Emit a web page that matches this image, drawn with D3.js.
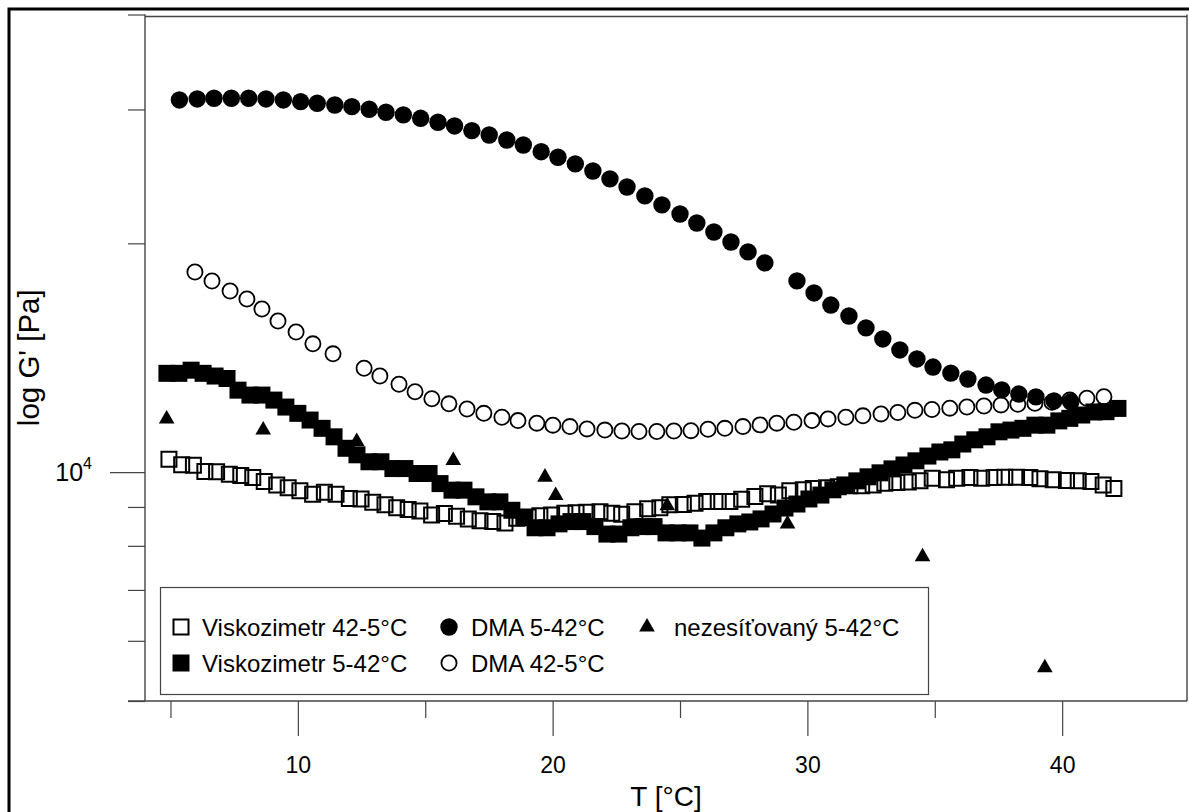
<!DOCTYPE html>
<html>
<head>
<meta charset="utf-8">
<script src="https://cdn.jsdelivr.net/npm/d3@7"></script>
<style>
  html, body { margin: 0; padding: 0; background: #fff; }
  svg { display: block; font-family: "Liberation Sans", Arial, sans-serif; }
</style>
</head>
<body>
<svg id="chart" width="1189" height="812"></svg>
<script>
// Viskozimetr 42-5°C (open squares)
const viscoDownT = [4.94, 5.44, 5.90, 6.35, 6.81, 7.31, 7.76, 8.23, 8.68, 9.17,
  9.62, 10.08, 10.58, 11.04, 11.50, 12.02, 12.48, 12.94, 13.42, 13.88,
  14.33, 14.79, 15.25, 15.75, 16.23, 16.69, 17.15, 17.65, 18.13, 18.59,
  19.04, 19.50, 19.96, 20.48, 20.92, 21.34, 21.86, 22.32, 22.71, 23.23,
  23.73, 24.21, 24.60, 25.13, 25.59, 26.05, 26.50, 26.96, 27.42, 27.94,
  28.44, 28.86, 29.31, 29.84, 30.23, 30.75, 31.21, 31.67, 32.13, 32.58,
  33.04, 33.51, 33.96, 34.42, 34.90, 35.46, 35.86, 36.38, 36.84, 37.33,
  37.75, 38.21, 38.73, 39.13, 39.65, 40.17, 40.63, 41.13, 41.61, 42.03];
const viscoDownG = [10400, 10230, 10210, 10020, 10010, 9940, 9900, 9840, 9720, 9620,
  9540, 9450, 9350, 9410, 9350, 9230, 9220, 9130, 9060, 8980,
  8930, 8890, 8780, 8820, 8750, 8680, 8630, 8610, 8570, 8700,
  8730, 8760, 8780, 8830, 8840, 8860, 8870, 8830, 8800, 8870,
  8950, 8980, 9060, 9070, 9100, 9150, 9150, 9150, 9210, 9290,
  9370, 9330, 9450, 9480, 9520, 9540, 9570, 9600, 9600, 9620,
  9670, 9690, 9710, 9740, 9820, 9770, 9820, 9840, 9820, 9840,
  9850, 9850, 9840, 9800, 9770, 9750, 9740, 9720, 9620, 9520];

// Viskozimetr 5-42°C (filled squares)
const viscoUpT = [4.86, 5.33, 5.81, 6.28, 6.75, 7.22, 7.65, 8.12, 8.59, 9.06,
  9.53, 10.00, 10.48, 10.95, 11.42, 11.89, 12.32, 12.79, 13.26, 13.73,
  14.20, 14.68, 15.15, 15.58, 16.05, 16.52, 16.99, 17.46, 17.93, 18.40,
  18.87, 19.31, 19.78, 20.25, 20.72, 21.19, 21.66, 22.13, 22.60, 23.07,
  23.54, 23.98, 24.45, 24.92, 25.39, 25.86, 26.33, 26.80, 27.27, 27.74,
  28.18, 28.65, 29.12, 29.59, 30.06, 30.53, 31.00, 31.47, 31.94, 32.38,
  32.85, 33.32, 33.79, 34.26, 34.73, 35.20, 35.67, 36.10, 36.57, 37.05,
  37.52, 37.99, 38.46, 38.93, 39.40, 39.87, 40.30, 40.77, 41.25, 41.72,
  42.19];
const viscoUpG = [13490, 13490, 13620, 13490, 13380, 13280, 12820, 12630, 12630, 12440,
  12180, 11950, 11710, 11420, 11130, 10750, 10540, 10320, 10320, 10110,
  10110, 9960, 9960, 9660, 9470, 9470, 9280, 9140, 9140, 8910,
  8710, 8450, 8450, 8550, 8610, 8610, 8480, 8290, 8290, 8450,
  8480, 8480, 8320, 8320, 8320, 8190, 8320, 8450, 8550, 8600,
  8680, 8810, 8970, 9080, 9220, 9330, 9480, 9620, 9740, 9860,
  9980, 10100, 10220, 10350, 10500, 10630, 10700, 10890, 11030, 11130,
  11300, 11360, 11420, 11530, 11530, 11680, 11770, 11890, 12000, 12010,
  12130];

// DMA 5-42°C (filled circles)
const dmaUpT = [5.35, 6.05, 6.71, 7.39, 8.07, 8.75, 9.43, 10.11, 10.76, 11.45,
  12.12, 12.80, 13.46, 14.14, 14.82, 15.50, 16.15, 16.83, 17.51, 18.20,
  18.85, 19.55, 20.21, 20.89, 21.58, 22.25, 22.92, 23.62, 24.29, 25.00,
  25.66, 26.33, 27.00, 27.67, 28.33, 29.59, 30.26, 30.92, 31.63, 32.30,
  32.96, 33.63, 34.30, 34.93, 35.63, 36.30, 37.01, 37.63, 38.30, 38.97,
  39.68, 40.34];
const dmaUpG = [30880, 30970, 31040, 31040, 31040, 30970, 30880, 30720, 30570, 30410,
  30260, 30020, 29750, 29510, 29210, 28860, 28540, 28140, 27770, 27350,
  26940, 26400, 25960, 25440, 24900, 24310, 23720, 23090, 22470, 21860,
  21270, 20700, 20080, 19490, 18850, 17850, 17210, 16590, 16050, 15480,
  14970, 14480, 14090, 13750, 13500, 13260, 13020, 12830, 12670, 12560,
  12410, 12370];

// DMA 42-5°C (open circles)
const dmaDownT = [5.96, 6.63, 7.34, 8.00, 8.59, 9.22, 9.93, 10.59, 11.38, 12.60,
  13.22, 13.97, 14.60, 15.26, 15.93, 16.64, 17.30, 18.01, 18.64, 19.38,
  20.01, 20.68, 21.35, 22.05, 22.72, 23.39, 24.09, 24.76, 25.43, 26.10,
  26.76, 27.47, 28.14, 28.80, 29.47, 30.18, 30.81, 31.51, 32.18, 32.89,
  33.55, 34.22, 34.89, 35.59, 36.26, 36.93, 37.60, 38.26, 38.93, 39.60,
  40.30, 40.97, 41.64];
const dmaDownG = [18340, 17840, 17310, 16900, 16390, 15810, 15290, 14750, 14310, 13700,
  13380, 13050, 12760, 12490, 12300, 12110, 11950, 11810, 11690, 11600,
  11530, 11480, 11400, 11360, 11330, 11310, 11310, 11330, 11340, 11390,
  11420, 11480, 11540, 11600, 11630, 11690, 11750, 11810, 11860, 11930,
  11980, 12060, 12090, 12140, 12180, 12220, 12260, 12280, 12320, 12360,
  12440, 12510, 12570];

// nezesíťovaný 5-42°C (triangles)
const uncrossT = [4.85, 8.64, 12.31, 16.10, 19.70, 20.12, 24.50, 29.22, 34.52, 39.32];
const uncrossG = [11750, 11360, 10970, 10360, 9850, 9320, 9030, 8550, 7740, 5530];

const xMajorTicks = [10, 20, 30, 40];
const xMinorTicks = [5, 15, 25, 35];
const yMinorTicks = [5000, 6000, 7000, 8000, 9000, 20000, 30000, 40000];
const yMajorTicks = [10000];

const legendRow1 = ['Viskozimetr 42-5°C', 'DMA 5-42°C', 'nezesíťovaný 5-42°C'];
const legendRow2 = ['Viskozimetr 5-42°C', 'DMA 42-5°C'];

const axisColor = '#444';
const svg = d3.select('#chart');
const plot = {left: 145, right: 1187, top: 16.5, bottom: 701};

const x = d3.scaleLinear().domain([4, 44.9]).range([plot.left, plot.right]);
const y = d3.scaleLog().domain([5000, 40000]).range([701, 14.5]);

// outer black frame (cropped at right and bottom)
svg.append('rect')
  .attr('x', 9).attr('y', 9)
  .attr('width', 1200).attr('height', 820)
  .attr('fill', 'none')
  .attr('stroke', '#000')
  .attr('stroke-width', 3);

function styleAxis(g) {
  g.select('.domain').remove();
  g.selectAll('.tick line').attr('stroke', axisColor).attr('stroke-width', 1.2);
}

// x axis ticks
svg.append('g')
  .attr('transform', `translate(0,${plot.bottom})`)
  .call(d3.axisBottom(x).tickValues(xMinorTicks).tickSize(17).tickFormat(''))
  .call(styleAxis);
svg.append('g')
  .attr('transform', `translate(0,${plot.bottom})`)
  .call(d3.axisBottom(x).tickValues(xMajorTicks).tickSize(35).tickPadding(21).tickFormat(d3.format('d')))
  .call(styleAxis)
  .call(g => g.selectAll('text')
    .attr('fill', '#000')
    .attr('font-size', 23)
    .attr('font-family', '"Liberation Sans", Arial, sans-serif'));

// y axis ticks
svg.append('g')
  .attr('transform', `translate(${plot.left},0)`)
  .call(d3.axisLeft(y).tickValues(yMinorTicks).tickSize(17).tickFormat(''))
  .call(styleAxis);
svg.append('g')
  .attr('transform', `translate(${plot.left},0)`)
  .call(d3.axisLeft(y).tickValues(yMajorTicks).tickSize(35).tickFormat(''))
  .call(styleAxis);

yMajorTicks.forEach(function (v) {
  let t = svg.append('text')
    .attr('x', 92)
    .attr('y', y(v) + 9)
    .attr('text-anchor', 'end')
    .attr('font-size', 25)
    .attr('fill', '#000');
  t.append('tspan').text('10');
  t.append('tspan').attr('font-size', 16).attr('dy', -12).text(Math.round(Math.log10(v)));
});

// frame
const frame = svg.append('g')
  .attr('stroke', axisColor)
  .attr('stroke-width', 1.4);
frame.append('line').attr('x1', plot.left).attr('x2', plot.left)
  .attr('y1', y(40000)).attr('y2', plot.bottom);
frame.append('line').attr('x1', plot.left).attr('x2', plot.right)
  .attr('y1', plot.top).attr('y2', plot.top);
frame.append('line').attr('x1', plot.right).attr('x2', plot.right)
  .attr('y1', y(40000)).attr('y2', plot.bottom);
frame.append('line').attr('x1', 128).attr('x2', plot.right)
  .attr('y1', plot.bottom).attr('y2', plot.bottom);

// axis titles
svg.append('text')
  .attr('x', (plot.left + plot.right) / 2)
  .attr('y', 806)
  .attr('text-anchor', 'middle')
  .attr('font-size', 28)
  .text('T [°C]');
svg.append('text')
  .attr('transform', `translate(39,${(y(40000) + plot.bottom) / 2}) rotate(-90)`)
  .attr('text-anchor', 'middle')
  .attr('font-size', 29.5)
  .text('log G\' [Pa]');

// markers
const sym = {
  openSquare: {type: d3.symbolSquare, size: 225, fill: 'none', stroke: '#000', sw: 2},
  filledSquare: {type: d3.symbolSquare, size: 289, fill: '#000', stroke: 'none', sw: 0},
  filledCircle: {type: d3.symbolCircle, size: 238, fill: '#000', stroke: 'none', sw: 0},
  openCircle: {type: d3.symbolCircle, size: 181, fill: 'none', stroke: '#000', sw: 1.8},
  triangle: {type: d3.symbolTriangle, size: 106, fill: '#000', stroke: 'none', sw: 0}
};

function drawSeries(T, G, s) {
  const pts = T.map((t, i) => [t, G[i]]);
  svg.append('g').selectAll('path')
    .data(pts)
    .enter()
    .append('path')
    .attr('d', d3.symbol().type(s.type).size(s.size))
    .attr('transform', d => `translate(${x(d[0])},${y(d[1])})`)
    .attr('fill', s.fill)
    .attr('stroke', s.stroke)
    .attr('stroke-width', s.sw);
}

drawSeries(viscoDownT, viscoDownG, sym.openSquare);
drawSeries(viscoUpT, viscoUpG, sym.filledSquare);
drawSeries(dmaUpT, dmaUpG, sym.filledCircle);
drawSeries(dmaDownT, dmaDownG, sym.openCircle);
drawSeries(uncrossT, uncrossG, sym.triangle);

// legend
const legend = svg.append('g');
legend.append('rect')
  .attr('x', 160.5).attr('y', 587.5)
  .attr('width', 768).attr('height', 107)
  .attr('fill', '#fff')
  .attr('stroke', axisColor)
  .attr('stroke-width', 1.2);

const legendItems = [
  {label: legendRow1[0], s: sym.openSquare, mx: 181, tx: 202, y: 627},
  {label: legendRow1[1], s: sym.filledCircle, mx: 449, tx: 471, y: 627},
  {label: legendRow1[2], s: sym.triangle, mx: 647, tx: 674, y: 627},
  {label: legendRow2[0], s: sym.filledSquare, mx: 181, tx: 202, y: 663},
  {label: legendRow2[1], s: sym.openCircle, mx: 449, tx: 471, y: 663}
];
legendItems.forEach(function (it) {
  legend.append('path')
    .attr('d', d3.symbol().type(it.s.type).size(it.s.size)())
    .attr('transform', `translate(${it.mx},${it.y})`)
    .attr('fill', it.s.fill)
    .attr('stroke', it.s.stroke)
    .attr('stroke-width', it.s.sw);
  legend.append('text')
    .attr('x', it.tx)
    .attr('y', it.y + 8.5)
    .attr('font-size', 24)
    .text(it.label);
});
</script>
</body>
</html>
